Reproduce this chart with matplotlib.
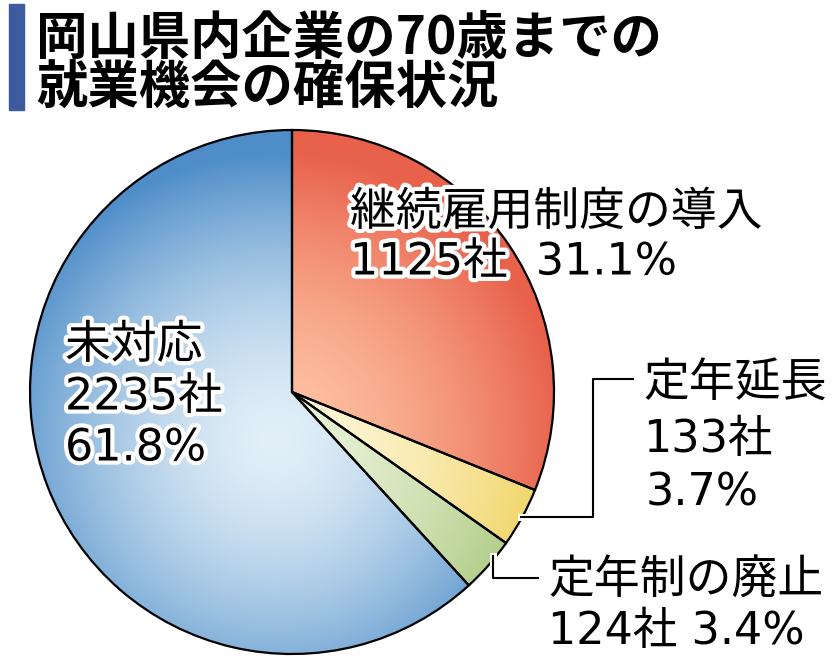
import numpy as np
import matplotlib.pyplot as plt
import matplotlib.patheffects as pe
from matplotlib.colors import to_rgb
from matplotlib.patches import Rectangle

plt.rcParams['font.family'] = ['Noto Sans CJK JP', 'DejaVu Sans']
NUM_FONT = ['DejaVu Sans', 'Noto Sans CJK JP']

W, H = 836, 666

title_lines = ['岡山県内企業の70歳までの', '就業機会の確保状況']
categories = ['継続雇用制度の導入', '定年延長', '定年制の廃止', '未対応']
companies = [1125, 133, 124, 2235]
shares = [31.1, 3.7, 3.4, 61.8]
edge_colors = ['#e8614b', '#efd25c', '#a6c679', '#4e8dc8']
light_colors = ['#fec4a4', '#fff7dc', '#eaf2d8', '#e2eff8']


def Y(y):
    # pixel row (from top) -> data y
    return H - y


fig = plt.figure(figsize=(W / 100, H / 100), dpi=100)
ax = fig.add_axes([0, 0, 1, 1])

cx, cy, R = 292, Y(392), 262
wedges, _ = ax.pie(companies, center=(cx, cy), radius=R, startangle=90,
                   counterclock=False, colors=['none'] * 4,
                   wedgeprops=dict(edgecolor='black', linewidth=1.6))

# radial gradient inside every slice
gx, gy = 275, Y(440)
xs = np.linspace(cx - R, cx + R, 400)
ys = np.linspace(cy - R, cy + R, 400)
XX, YY = np.meshgrid(xs, ys)
t = np.clip(np.hypot(XX - gx, YY - gy) / (R * 1.1), 0, 1) ** 1.6
for w, c0, c1 in zip(wedges, light_colors, edge_colors):
    a, b = np.array(to_rgb(c0)), np.array(to_rgb(c1))
    img = a + (b - a) * t[..., None]
    im = ax.imshow(img, extent=(cx - R, cx + R, cy - R, cy + R), origin='lower',
                   zorder=0.5, interpolation='bilinear')
    im.set_clip_path(w)

halo = [pe.withStroke(linewidth=6, foreground='white')]
fs = 33
nfs = 32

ax.text(350, Y(212), categories[0], fontsize=fs, va='center', path_effects=halo)
ax.text(350, Y(262), f'{companies[0]}社  {shares[0]}%', fontsize=nfs, va='center',
        family=NUM_FONT, path_effects=halo)

ax.text(65, Y(345), categories[3], fontsize=fs, va='center', path_effects=halo)
ax.text(65, Y(397), f'{companies[3]}社', fontsize=nfs, va='center',
        family=NUM_FONT, path_effects=halo)
ax.text(65, Y(448), f'{shares[3]}%', fontsize=nfs, va='center',
        family=NUM_FONT, path_effects=halo)

ax.text(643, Y(383), categories[1], fontsize=fs, va='center')
ax.text(643, Y(440), f'{companies[1]}社', fontsize=nfs, va='center', family=NUM_FONT)
ax.text(646, Y(493), f'{shares[1]}%', fontsize=nfs, va='center', family=NUM_FONT)

ax.text(548, Y(580), categories[2], fontsize=fs, va='center')
ax.text(548, Y(632), f'{companies[2]}社 {shares[2]}%', fontsize=nfs, va='center',
        family=NUM_FONT)

# leader lines from the small slices
line_fx = [pe.withStroke(linewidth=5, foreground='white')]
mids = [np.deg2rad((w.theta1 + w.theta2) / 2) for w in wedges]
x1, y1 = cx + R * 0.995 * np.cos(mids[1]), cy + R * 0.995 * np.sin(mids[1])
ax.plot([x1, 593, 593, 633], [y1, y1, Y(379), Y(379)], color='black', lw=1.5,
        path_effects=line_fx, zorder=3)
x2, y2 = cx + R * 0.99 * np.cos(mids[2] + 0.04), cy + R * 0.99 * np.sin(mids[2] + 0.04)
ax.plot([x2, x2, 538], [y2, Y(578), Y(578)], color='black', lw=1.5,
        path_effects=line_fx, zorder=3)

ax.set_xlim(0, W)
ax.set_ylim(0, H)
ax.set_aspect('equal')
ax.axis('off')

# title
fig.patches.append(Rectangle((9 / W, 1 - 110 / H), 15 / W, 106 / H,
                             transform=fig.transFigure, color='#3d5b9e'))
fig.text(36 / W, 1 - 38 / H, title_lines[0], fontsize=37, fontweight='bold', va='center')
fig.text(36 / W, 1 - 88 / H, title_lines[1], fontsize=37, fontweight='bold', va='center')

fig.savefig('out.png', dpi=100, facecolor='white')
